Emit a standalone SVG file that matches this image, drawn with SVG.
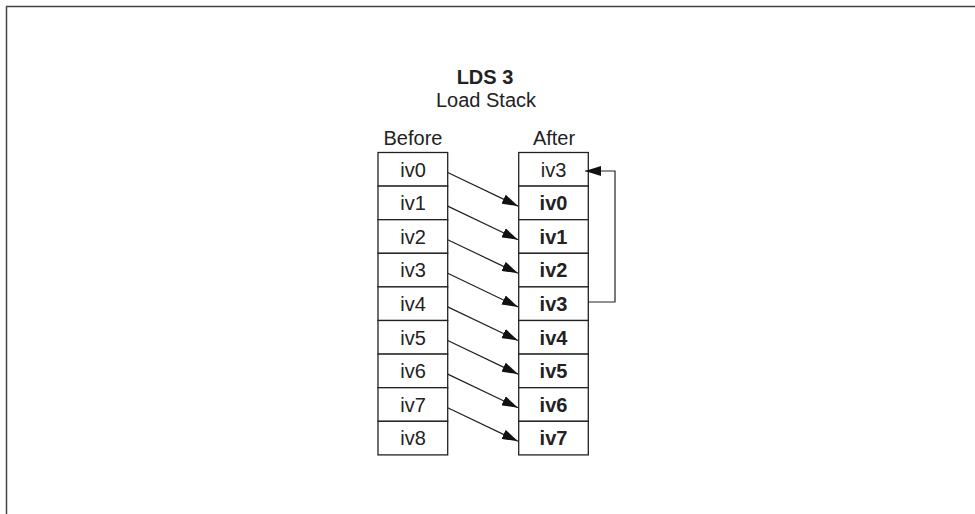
<svg xmlns="http://www.w3.org/2000/svg" width="975" height="514" viewBox="0 0 975 514">
<style>
text{font-family:"Liberation Sans",Arial,sans-serif;font-size:20px;fill:#222;text-anchor:middle}
.b{font-weight:bold}
.cell{fill:#fff;stroke:#222;stroke-width:1.3}
.con{stroke:#222;stroke-width:1.2;fill:none}
</style>
<defs>
<marker id="ah" viewBox="0 0 16 10" refX="16" refY="5" markerWidth="16" markerHeight="10" markerUnits="userSpaceOnUse" orient="auto">
<path d="M0,0 L16,5 L0,10 Z" fill="#111"/>
</marker>
</defs>
<rect width="975" height="514" fill="#fff"/>
<path d="M6.5,514 V6.5 H975" fill="none" stroke="#444" stroke-width="1.5"/>
<g id="title">
<text class="b" x="485" y="84">LDS 3</text>
<text x="486" y="107">Load Stack</text>
</g>
<g id="before">
<text x="413" y="145">Before</text>
<rect class="cell" x="378" y="152.5" width="69.7" height="33.6"/><text x="413" y="176.5">iv0</text>
<rect class="cell" x="378" y="186.1" width="69.7" height="33.6"/><text x="413" y="210.1">iv1</text>
<rect class="cell" x="378" y="219.7" width="69.7" height="33.6"/><text x="413" y="243.7">iv2</text>
<rect class="cell" x="378" y="253.3" width="69.7" height="33.6"/><text x="413" y="277.3">iv3</text>
<rect class="cell" x="378" y="286.9" width="69.7" height="33.6"/><text x="413" y="310.9">iv4</text>
<rect class="cell" x="378" y="320.5" width="69.7" height="33.6"/><text x="413" y="344.5">iv5</text>
<rect class="cell" x="378" y="354.1" width="69.7" height="33.6"/><text x="413" y="378.1">iv6</text>
<rect class="cell" x="378" y="387.7" width="69.7" height="33.6"/><text x="413" y="411.7">iv7</text>
<rect class="cell" x="378" y="421.3" width="69.7" height="33.6"/><text x="413" y="445.3">iv8</text>
</g>
<g id="after">
<text x="554" y="145">After</text>
<rect class="cell" x="518.7" y="152.5" width="69.6" height="33.6"/><text x="553.5" y="176.5">iv3</text>
<rect class="cell" x="518.7" y="186.1" width="69.6" height="33.6"/><text class="b" x="553.5" y="210.1">iv0</text>
<rect class="cell" x="518.7" y="219.7" width="69.6" height="33.6"/><text class="b" x="553.5" y="243.7">iv1</text>
<rect class="cell" x="518.7" y="253.3" width="69.6" height="33.6"/><text class="b" x="553.5" y="277.3">iv2</text>
<rect class="cell" x="518.7" y="286.9" width="69.6" height="33.6"/><text class="b" x="553.5" y="310.9">iv3</text>
<rect class="cell" x="518.7" y="320.5" width="69.6" height="33.6"/><text class="b" x="553.5" y="344.5">iv4</text>
<rect class="cell" x="518.7" y="354.1" width="69.6" height="33.6"/><text class="b" x="553.5" y="378.1">iv5</text>
<rect class="cell" x="518.7" y="387.7" width="69.6" height="33.6"/><text class="b" x="553.5" y="411.7">iv6</text>
<rect class="cell" x="518.7" y="421.3" width="69.6" height="33.6"/><text class="b" x="553.5" y="445.3">iv7</text>
</g>
<g id="connectors">
<line class="con" x1="447.7" y1="172.5" x2="518" y2="206.1" marker-end="url(#ah)"/>
<line class="con" x1="447.7" y1="206.1" x2="518" y2="239.7" marker-end="url(#ah)"/>
<line class="con" x1="447.7" y1="239.7" x2="518" y2="273.3" marker-end="url(#ah)"/>
<line class="con" x1="447.7" y1="273.3" x2="518" y2="306.9" marker-end="url(#ah)"/>
<line class="con" x1="447.7" y1="306.9" x2="518" y2="340.5" marker-end="url(#ah)"/>
<line class="con" x1="447.7" y1="340.5" x2="518" y2="374.1" marker-end="url(#ah)"/>
<line class="con" x1="447.7" y1="374.1" x2="518" y2="407.7" marker-end="url(#ah)"/>
<line class="con" x1="447.7" y1="407.7" x2="518" y2="441.3" marker-end="url(#ah)"/>
<path class="con" d="M588.3,302 H615 V171 H585" marker-end="url(#ah)"/>
</g>
</svg>
